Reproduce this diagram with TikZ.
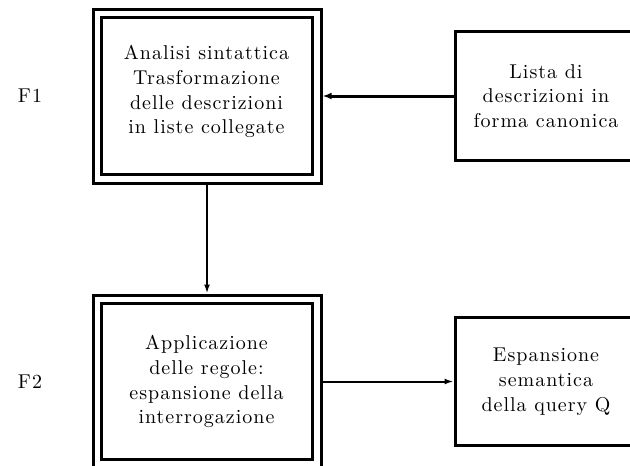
\documentclass[tikz,border=0pt]{standalone}
\usepackage{fontspec}
\setmainfont{lmroman10-regular}[Extension=.otf,LetterSpace=5]
\usetikzlibrary{arrows.meta}
\begin{document}
\begin{tikzpicture}[x=0.5pt,y=-0.5pt,
  every node/.style={font=\fontsize{10}{12.4}\selectfont},
  frame/.style={draw,line width=1.5pt,minimum width=#1},
  outerbox/.style={frame=114pt,minimum height=86.5pt,inner sep=0pt},
  innerbox/.style={frame=105.5pt,minimum height=78pt,inner sep=0pt},
  boxtext/.style={align=center,inner sep=0pt},
  sidebox/.style={frame=91pt,minimum height=64pt,align=center,inner sep=0pt},
  flow/.style={line width=1pt,-{Latex[length=4.5pt,width=3pt]}},
  heavyflow/.style={line width=1.5pt,-{Latex[length=4.5pt,width=3.4pt]}},
  phase/.style={inner sep=0pt}]
\useasboundingbox (0,0) rectangle (630,465);
\clip (0,0) rectangle (630,465);

% phase F1
\node[phase] (f1lab) at (30,96) {F1};
\node[outerbox] (f1outer) at (207,96.5) {};
\node[innerbox] (f1inner) at (206.5,96) {};
\node[boxtext] (f1text) at (206.5,91.5)
  {Analisi sintattica\\Trasformazione\\delle descrizioni\\in liste collegate};
\node[sidebox] (lista) at (546,96)
  {Lista di\\descrizioni in\\forma canonica};

% phase F2
\node[phase] (f2lab) at (30,381.5) {F2};
\node[outerbox] (f2outer) at (207,381.5) {};
\node[innerbox] (f2inner) at (206.5,381.5) {};
\node[boxtext] (f2text) at (206.5,381.5)
  {Applicazione\\delle regole:\\espansione della\\interrogazione};
\node[sidebox] (espans) at (546,381.5)
  {Espansione\\semantica\\della query Q};

% connectors
\draw[heavyflow] (lista.west) -- (f1outer.east |- lista.west);
\draw[flow] (f1outer.south) -- (f2outer.north);
\draw[flow] (f2outer.east |- espans.west) -- (espans.west);
\end{tikzpicture}
\end{document}
